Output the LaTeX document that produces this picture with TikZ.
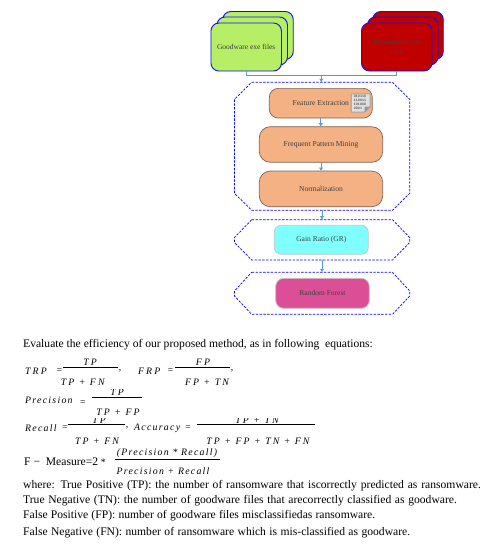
\documentclass[tikz,border=0pt]{standalone}
\usepackage{fontspec}
\setmainfont{Liberation Serif}
\newfontfamily\eqfont[LetterSpace=13]{Liberation Serif}
\newfontfamily\capfont[LetterSpace=21]{Liberation Serif}
\usetikzlibrary{arrows.meta}
\definecolor{goodgreen}{HTML}{B6EE66}
\definecolor{ransomred}{HTML}{C00000}
\definecolor{peach}{HTML}{F4B183}
\definecolor{peachedge}{HTML}{7F6455}
\definecolor{cyanbox}{HTML}{7FFFFF}
\definecolor{pinkbox}{HTML}{DC4F96}
\definecolor{linkblue}{HTML}{5B9BD5}
\definecolor{stackedge}{HTML}{1010F0}
\definecolor{labelgray}{HTML}{404040}
\tikzset{
  x=1pt,y=-1pt,
  sheet/.style={draw=stackedge,line width=0.9pt,rounded corners=8pt,inner sep=0pt,outer sep=0pt,
     minimum width=70.5pt,minimum height=48pt,align=center,text=labelgray,font=\fontsize{7.5}{9.5}\selectfont},
  goodsheet/.style={sheet,fill=goodgreen},
  ransomsheet/.style={sheet,fill=ransomred},
  stepbox/.style={fill=peach,draw=peachedge,line width=0.7pt,rounded corners=9pt,inner sep=0pt,outer sep=0pt,
     text=labelgray,font=\fontsize{7.6}{9}\selectfont},
  lightbox/.style={draw=black!22,line width=0.8pt,rounded corners=7pt,inner sep=0pt,outer sep=0pt,
     text=labelgray,font=\fontsize{7.5}{9}\selectfont},
  region/.style={draw=blue,line width=0.7pt,dash pattern=on 2.4pt off 1.4pt},
  anchorbox/.style={inner sep=0pt,outer sep=0pt},
  link/.style={draw=linkblue,line width=0.8pt},
  linkarrow/.style={link,-{Latex[length=3.5pt,width=4.5pt]}},
  para/.style={anchor=west,inner sep=0pt,font=\fontsize{11.6}{13}\selectfont},
  eq/.style={inner sep=0pt,font=\eqfont\itshape\fontsize{9.8}{12}\selectfont},
  eqcap/.style={inner sep=0pt,font=\capfont\itshape\fontsize{9.8}{12}\selectfont},
  eql/.style={eq,anchor=west},
  eqcapl/.style={eqcap,anchor=west},
  fracbar/.style={draw=black,line width=0.5pt},
}
\begin{document}
\begin{tikzpicture}
\useasboundingbox (0,0) rectangle (495,550);
\fill[white] (0,0) rectangle (495,550);
% stacks
\node[goodsheet] (g3) at (258,35.5) {};
\node[goodsheet] (g2) at (252.2,41) {};
\node[goodsheet] (good) at (246.2,47) {Goodware exe files};
\node[ransomsheet] (r3) at (408,35.5) {};
\node[ransomsheet] (r2) at (402.7,41) {};
\node[ransomsheet] (ransom) at (396.7,47) {Ransomware exe\\files};
% regions
\node[anchorbox,minimum width=175pt,minimum height=128pt] (regA) at (322,146.3) {};
\node[anchorbox,minimum width=175pt,minimum height=40.3pt] (regB) at (322,239.8) {};
\node[anchorbox,minimum width=175pt,minimum height=42pt] (regC) at (322,293.3) {};
\draw[region] (251.7,82.3) -- (392.5,82.3) -- (409.7,99.3) -- (409.7,193.3) -- (392.5,210.3) -- (251.7,210.3) -- (234.5,193.3) -- (234.5,99.3) -- cycle;
\draw[region] (251.7,219.7) -- (392.5,219.7) -- (409.7,237.5) -- (409.7,242.5) -- (392.5,260) -- (251.7,260) -- (234.5,242.5) -- (234.5,237.5) -- cycle;
\draw[region] (251.7,272.3) -- (392.5,272.3) -- (409.7,291) -- (409.7,296) -- (392.5,314.3) -- (251.7,314.3) -- (234.5,296) -- (234.5,291) -- cycle;
% steps
\node[stepbox,minimum width=103pt,minimum height=29.7pt] (feat) at (320.8,103.2) {Feature Extraction};
\node[stepbox,minimum width=123.4pt,minimum height=35.6pt,rounded corners=11pt] (freq) at (321,144.5) {Frequent Pattern Mining};
\node[stepbox,minimum width=123.4pt,minimum height=35.7pt,rounded corners=11pt] (norm) at (321,188.9) {Normalization};
\node[lightbox,fill=cyanbox,minimum width=94pt,minimum height=29pt] (gain) at (321.3,239.8) {Gain Ratio (GR)};
\node[lightbox,fill=pinkbox,minimum width=93.6pt,minimum height=30pt,rounded corners=8pt] (forest) at (322.5,293.3) {Random Forest};
% binary icon
\fill[black!35,rounded corners=1pt] (350.7,93.3) -- (370.7,93.3) -- (370.7,106.5) -- (364.5,112.7) -- (350.7,112.7) -- cycle;
\fill[black!12] (351.8,94.3) -- (369.7,94.3) -- (369.7,106) -- (364,111.7) -- (351.8,111.7) -- cycle;
\fill[black!40] (370.7,106.5) -- (364.5,106.5) -- (364.5,112.7) -- cycle;
\node[anchorbox,align=left,font=\fontsize{3.8}{4.1}\selectfont\ttfamily] (bits) at (360,102.5) {010110\\110011\\101000\\0001\phantom{00}};
% connectors
\coordinate (merge) at (321.3,75.7);
\draw[link] (good.south) |- (merge);
\draw[link] (ransom.south) |- (merge);
\draw[linkarrow] (merge) -- (merge |- regA.north);
\draw[linkarrow] (feat.south) -- (feat.south |- freq.north);
\draw[linkarrow] (freq.south) -- (norm.north);
\draw[linkarrow] (regA.south) -- (regB.north);
\draw[linkarrow] (regB.south) -- (regC.north);
% text
\node[para] (intro) at (23,345) {Evaluate the efficiency of our proposed method, as in following \ equations:};
% TRP, FRP
\node[eqcapl] (trp) at (25,371) {TRP};
\node[eq] (trpeq) at (59.5,371) {=};
\draw[fracbar] (62.7,367.3) -- (118.3,367.3);
\node[eqcap] (trpn) at (90,362) {TP};
\node[eqcap] (trpd) at (82.7,382.7) {TP + FN};
\node[eq] (c1) at (120,371) {,};
\node[eqcapl] (frp) at (138,371) {FRP};
\node[eq] (frpeq) at (170.5,371) {=};
\draw[fracbar] (175,367.3) -- (230,367.3);
\node[eqcap] (frpn) at (203,362) {FP};
\node[eqcap] (frpd) at (207,382.7) {FP + TN};
\node[eq] (c2) at (232,371) {,};
% Precision
\node[eql] (prec) at (25,400) {Precision};
\node[eq] (preceq) at (82.7,403) {=};
\draw[fracbar] (92,397) -- (141.7,397);
\begin{scope}
\clip (80,389.8) rectangle (150,396.6);
\node[eqcap] (precn) at (117,392) {TP};
\end{scope}
\node[eqcap] (precd) at (118,412.7) {TP + FP};
% Recall, Accuracy
\node[eql] (rec) at (25,428) {Recall};
\node[eq] (receq) at (65,428) {=};
\draw[fracbar] (68,424) -- (125,424);
\begin{scope}
\clip (68,418.6) rectangle (318,423.6);
\node[eqcap] (recn) at (99,420.7) {TP};
\node[eqcap] (accn) at (257,420.7) {TP + TN};
\end{scope}
\node[eqcap] (recd) at (97,441) {TP + FN};
\node[eq] (c3) at (127,428) {,};
\node[eql] (acc) at (134,428) {Accuracy};
\node[eq] (acceq) at (188,428) {=};
\draw[fracbar] (197,424) -- (315,424);
\node[eqcap] (accd) at (258,441) {TP + FP + TN + FN};
% F-measure
\node[para] (fm) at (24,462) {F − \ Measure=2};
\node[eq] (star) at (102.7,462) {*};
\draw[fracbar] (115,459) -- (220,459);
\node[eq] (fmn) at (167,453) {(Precision * Recall)};
\node[eq] (fmd) at (163,470.7) {Precision + Recall};
% definitions
\node[para] (l1) at (23,486) {\makebox[457.7pt][s]{where: True Positive (TP): the number of ransomware that iscorrectly predicted as ransomware.}};
\node[para] (l2) at (23,501) {\makebox[433.7pt][s]{True Negative (TN): the number of goodware files that arecorrectly classified as goodware.}};
\node[para] (l3) at (23,516) {\makebox[352pt][s]{False Positive (FP): number of goodware files misclassifiedas ransomware.}};
\node[para] (l4) at (23,532.7) {\makebox[387pt][s]{False Negative (FN): number of ransomware which is mis-classified as goodware.}};
\end{tikzpicture}
\end{document}
